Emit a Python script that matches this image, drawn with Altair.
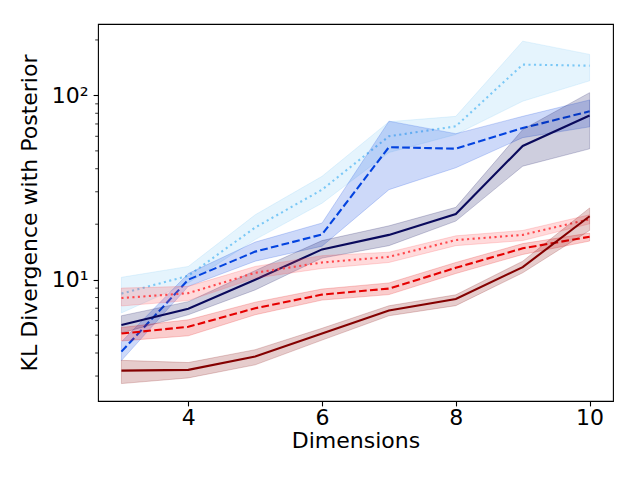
import altair as alt
import pandas as pd

dims = [3, 4, 5, 6, 7, 8, 9, 10]

lb_mean = [8.4, 10.5, 19.2, 30.8, 60, 68, 147, 145]
lb_lo = [6.6, 9.6, 16.5, 26, 49, 61.4, 93, 120]
lb_hi = [10.3, 11.8, 22.5, 36.4, 72, 77, 197, 167]

b_mean = [4.07, 10.0, 14.2, 17.6, 52.4, 51.4, 66.5, 82]
b_lo = [3.64, 9.2, 12.6, 15.2, 30.8, 40.5, 59, 67.5]
b_hi = [4.6, 10.8, 16, 20.3, 72.5, 62, 77, 94.5]

n_mean = [5.67, 6.95, 10.0, 14.6, 17.5, 22.7, 53.2, 77.8]
n_lo = [5.14, 6.45, 8.8, 13.1, 15.3, 20.8, 41.3, 51.3]
n_hi = [6.37, 7.6, 11.2, 16.3, 19.6, 24.7, 65.3, 103.5]

lr_mean = [7.95, 8.45, 10.9, 12.4, 13.3, 16.4, 17.5, 21.3]
lr_lo = [7.2, 7.7, 10.2, 11.5, 12.4, 15.3, 16.3, 20.1]
lr_hi = [9.0, 9.2, 11.8, 13.5, 14.1, 17.3, 18.5, 22.5]

r_mean = [5.1, 5.55, 7.0, 8.3, 8.95, 11.6, 14.8, 17.1]
r_lo = [4.65, 4.96, 6.45, 7.75, 8.3, 10.8, 13.7, 16.2]
r_hi = [5.5, 6.06, 7.55, 8.9, 9.6, 12.4, 15.7, 17.9]

dr_mean = [3.21, 3.24, 3.83, 5.1, 6.8, 7.85, 11.7, 22.1]
dr_lo = [2.73, 2.93, 3.45, 4.7, 6.37, 7.23, 10.9, 18.5]
dr_hi = [3.65, 3.55, 4.17, 5.45, 7.22, 8.28, 12.6, 24.5]

major_y = [10, 100]
minor_y = [3, 4, 5, 6, 7, 8, 9, 20, 30, 40, 50, 60, 70, 80, 90, 200]
x_ticks = [4, 6, 8, 10]

series = [
    ("lb", lb_mean, lb_lo, lb_hi),
    ("b", b_mean, b_lo, b_hi),
    ("n", n_mean, n_lo, n_hi),
    ("lr", lr_mean, lr_lo, lr_hi),
    ("r", r_mean, r_lo, r_hi),
    ("dr", dr_mean, dr_lo, dr_hi),
]

styles = {
    "lb": dict(color="#7bc8f6", dash=[2.1, 3.4]),
    "b": dict(color="#0343df", dash=[7.7, 3.3]),
    "n": dict(color="#0a0a5c", dash=None),
    "lr": dict(color="#ff474c", dash=[2.1, 3.4]),
    "r": dict(color="#e50000", dash=[7.7, 3.3]),
    "dr": dict(color="#840000", dash=None),
}

xscale = alt.Scale(domain=[2.65, 10.35], nice=False, zero=False)
yscale = alt.Scale(type="log", domain=[2.196, 244.1], nice=False)

x_axis = alt.Axis(title="Dimensions", values=x_ticks, grid=False, format="d",
                  domain=False, tickSize=4.9, tickWidth=1.1,
                  tickColor="black", labelPadding=2, titlePadding=2,
                  labelColor="black", titleColor="black")

y_axis = alt.Axis(title="KL Divergence with Posterior", values=major_y, grid=False,
                  domain=False, tickSize=4.9, tickWidth=1.1, tickColor="black",
                  labelExpr="datum.value == 100 ? '10²' : (datum.value == 10 ? '10¹' : '')",
                  labelPadding=5, titlePadding=10, labelColor="black", titleColor="black")

layers = []
for key, m, lo, hi in series:
    df = pd.DataFrame({"dim": dims, "mean": m, "lo": lo, "hi": hi})
    st = styles[key]
    base = alt.Chart(df)
    area = base.mark_area(color=st["color"], fillOpacity=0.2, stroke=st["color"],
                          strokeOpacity=0.2, strokeWidth=1).encode(
        x=alt.X("dim:Q", scale=xscale, axis=x_axis),
        y=alt.Y("lo:Q", scale=yscale, axis=y_axis),
        y2="hi:Q",
    )
    line_kwargs = dict(color=st["color"], strokeWidth=2.1)
    if st["dash"]:
        line_kwargs["strokeDash"] = st["dash"]
    line = base.mark_line(**line_kwargs).encode(
        x=alt.X("dim:Q", scale=xscale, axis=x_axis),
        y=alt.Y("mean:Q", scale=yscale, axis=y_axis),
    )
    layers += [area, line]

minor = alt.Chart(pd.DataFrame({"v": minor_y})).mark_rule(
    color="black", strokeWidth=0.8).encode(
    y=alt.Y("v:Q", scale=yscale, axis=y_axis),
    x=alt.value(-2.8),
    x2=alt.value(0),
)
layers.append(minor)

chart = alt.layer(*layers).properties(
    width=515, height=377,
    autosize=alt.AutoSizeParams(type="none"),
    padding={"left": 90, "top": 16, "right": 10, "bottom": 60},
).configure_view(
    stroke="black", strokeWidth=1.1
).configure_axis(
    labelFont="DejaVu Sans", titleFont="DejaVu Sans",
    labelFontSize=22, titleFontSize=22, titleFontWeight="normal",
)

chart.save("out.html", embed_options={"renderer": "svg", "actions": False})
